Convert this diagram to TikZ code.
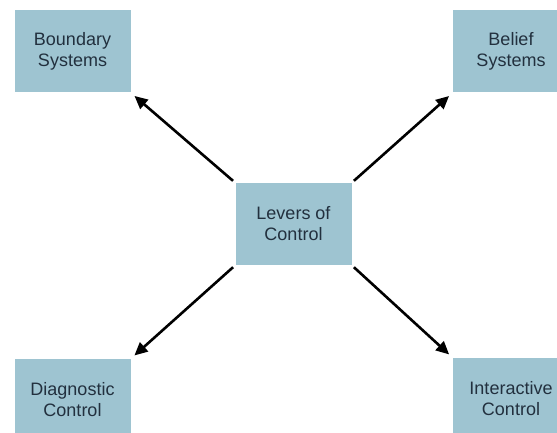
\documentclass[tikz,border=0pt]{standalone}
\usepackage{fontspec}
\setmainfont{Liberation Sans}
\usetikzlibrary{arrows.meta}
\definecolor{boxfill}{RGB}{158,196,209}
\definecolor{boxtext}{RGB}{34,48,62}
\begin{document}
\begin{tikzpicture}[x=1pt,y=-1pt,
  lever/.style={fill=boxfill,draw=none,minimum width=116pt,minimum height=82pt,
    align=center,text=boxtext,inner sep=0pt,font=\fontsize{18}{21}\selectfont},
  conn/.style={line width=2.6pt,-{Triangle[length=13pt,width=12pt]},shorten <=3pt,shorten >=5pt}]
\useasboundingbox (0,0) rectangle (557,433);
\fill[white] (0,0) rectangle (557,433);
\clip (0,0) rectangle (557,433);
\node[lever] (lev) at (293.5,224) {Levers of\\Control};
\node[lever] (bnd) at (72.5,51.5) {Boundary\\Systems};
\node[lever] (bel) at (511,51.5) {Belief\\Systems};
\node[lever] (dia) at (72.5,400) {Diagnostic\\Control};
\node[lever] (int) at (511,399) {Interactive\\Control};
\draw[conn] (lev.north west) -- (bnd.south east);
\draw[conn] (lev.north east) -- (bel.south west);
\draw[conn] (lev.south west) -- (dia.north east);
\draw[conn] (lev.south east) -- (int.north west);
\end{tikzpicture}
\end{document}
